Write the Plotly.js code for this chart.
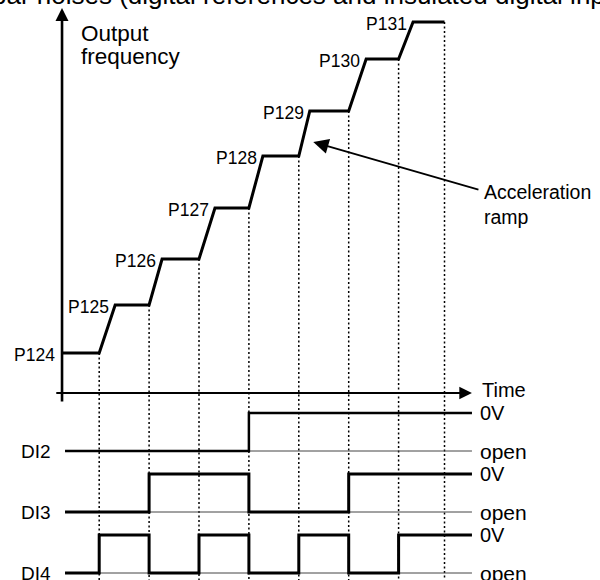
<!DOCTYPE html>
<html>
<head>
<meta charset="utf-8">
<script src="https://cdn.plot.ly/plotly-3.0.1.min.js"></script>
<style>html,body{margin:0;padding:0;background:#fff;}#chart{width:600px;height:580px;}</style>
</head>
<body>
<div id="chart"></div>
<script>
// ---- data ----
const levelNames = ['P124', 'P125', 'P126', 'P127', 'P128', 'P129', 'P130', 'P131'];
const levels = [40, 88, 134, 185, 237, 282, 334, 371];        // output frequency (relative units)
const switchTimes = [1, 2, 3, 4, 5, 6, 7];                    // times when the digital inputs change
const rampEnds = [1.32, 2.26, 3.32, 4.28, 5.22, 6.35, 7.29];  // end of each acceleration ramp
const freqStart = 0.255;
const freqEnd = 7.92;
const signalNames = ['DI2', 'DI3', 'DI4'];
const di2 = [0, 0, 0, 0, 1, 1, 1, 1];
const di3 = [0, 0, 1, 1, 0, 0, 1, 1];
const di4 = [0, 1, 0, 1, 0, 1, 0, 1];
const stateLabels = ['open', '0V'];

// ---- layout constants ----
const FONT = 'Arial, "Liberation Sans", sans-serif';
const sigStart = 0.315, sigEnd = 8.47, labelX = 8.59;
const sigBase = [-58, -119, -180];
const sigAmp = 38;
const yBottom = -187;

const traces = [];

// dotted guide lines at each switching instant
const gx = [], gy = [];
const guideTimes = switchTimes.concat([freqEnd]);
guideTimes.forEach((t, i) => { gx.push(t, t, null); gy.push(levels[i], yBottom, null); });
traces.push({x: gx, y: gy, mode: 'lines', line: {color: '#000', width: 1.5, dash: '2px,2.5px'}, hoverinfo: 'skip'});

// output frequency staircase
const fx = [freqStart], fy = [levels[0]];
switchTimes.forEach((t, i) => { fx.push(t, rampEnds[i]); fy.push(levels[i], levels[i + 1]); });
fx.push(freqEnd); fy.push(levels[levels.length - 1]);
traces.push({x: fx, y: fy, mode: 'lines', line: {color: '#000', width: 3}, hoverinfo: 'skip'});

// digital inputs
[di2, di3, di4].forEach((s, k) => {
  traces.push({x: [sigStart, sigEnd], y: [sigBase[k], sigBase[k]], mode: 'lines',
    line: {color: '#444', width: 1}, hoverinfo: 'skip'});
  const sx = [sigStart].concat(switchTimes, [sigEnd]);
  const sy = s.concat([s[s.length - 1]]).map(v => sigBase[k] + v * sigAmp);
  traces.push({x: sx, y: sy, mode: 'lines', line: {color: '#000', width: k === 0 ? 2.5 : 3, shape: 'hv'}, hoverinfo: 'skip'});
});

const ann = [];
// level labels
levelNames.forEach((n, i) => {
  const xx = i === 0 ? freqStart : rampEnds[i - 1];
  ann.push({x: xx, y: levels[i], xref: 'x', yref: 'y', text: n, showarrow: false,
    xanchor: 'right', yanchor: 'middle', xshift: i === 0 ? -5 : -4, yshift: -2, font: {size: 17.5}});
});
// signal names and state labels
signalNames.forEach((n, k) => {
  ann.push({x: sigStart, y: sigBase[k], xref: 'x', yref: 'y', text: n, showarrow: false,
    xanchor: 'right', yanchor: 'middle', xshift: -12, font: {size: 19}});
  ann.push({x: labelX, y: sigBase[k] + sigAmp, xref: 'x', yref: 'y', text: stateLabels[1], showarrow: false,
    xanchor: 'left', yanchor: 'middle', font: {size: 20}});
  ann.push({x: labelX, y: sigBase[k], xref: 'x', yref: 'y', text: stateLabels[0], showarrow: false,
    xanchor: 'left', yanchor: 'middle', font: {size: 21}});
});
// axes arrows
ann.push({x: freqStart, y: 385, ax: freqStart, ay: -10, xref: 'x', yref: 'y', axref: 'x', ayref: 'y',
  text: '', showarrow: true, arrowhead: 2, arrowsize: 1, arrowwidth: 2.6, arrowcolor: '#000', standoff: 0});
ann.push({x: sigEnd, y: 0, ax: 0.11, ay: 0, xref: 'x', yref: 'y', axref: 'x', ayref: 'y',
  text: '', showarrow: true, arrowhead: 2, arrowsize: 1.15, arrowwidth: 2.2, arrowcolor: '#000', standoff: 0});
ann.push({x: 5.29, y: 251, ax: 8.63, ay: 203, xref: 'x', yref: 'y', axref: 'x', ayref: 'y',
  text: '', showarrow: true, arrowhead: 2, arrowsize: 1.7, arrowwidth: 1.8, arrowcolor: '#000', standoff: 0});
// texts
ann.push({x: 0.6, y: 360, xref: 'x', yref: 'y', text: 'Output', showarrow: false,
  xanchor: 'left', yanchor: 'middle', font: {size: 22.5}});
ann.push({x: 0.6, y: 337, xref: 'x', yref: 'y', text: 'frequency', showarrow: false,
  xanchor: 'left', yanchor: 'middle', font: {size: 22.5}});
ann.push({x: 8.63, y: 3, xref: 'x', yref: 'y', text: 'Time', showarrow: false,
  xanchor: 'left', yanchor: 'middle', font: {size: 20}});
ann.push({x: 8.68, y: 189, xref: 'x', yref: 'y', text: 'Acceleration<br>ramp', showarrow: false, align: 'left',
  xanchor: 'left', yanchor: 'middle', font: {size: 19.5}});
// clipped heading at the very top
ann.push({x: -9 / 600, y: 1 - 11 / 580, xref: 'paper', yref: 'paper', text: 'bar noises (digital references and insulated digital inputs)',
  showarrow: false, xanchor: 'left', yanchor: 'bottom', borderpad: 0, font: {size: 26}});

const layout = {
  width: 600, height: 580,
  margin: {l: 0, r: 0, t: 0, b: 0},
  paper_bgcolor: '#fff', plot_bgcolor: '#fff',
  showlegend: false,
  font: {family: FONT, color: '#000'},
  xaxis: {range: [-0.988, 11.036], visible: false, fixedrange: true},
  yaxis: {range: [yBottom, 393], visible: false, fixedrange: true},
  annotations: ann
};
Plotly.newPlot('chart', traces, layout, {displayModeBar: false, staticPlot: true});
</script>
</body>
</html>
